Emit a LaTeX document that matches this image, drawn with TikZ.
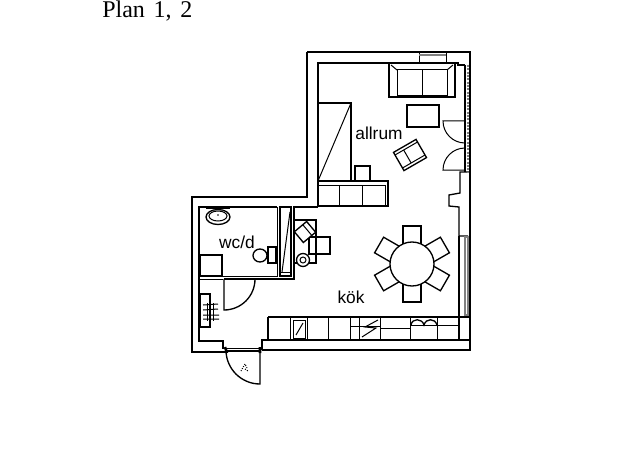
\documentclass[tikz,border=0pt]{standalone}
\usepackage{fontspec}
\setmainfont{Liberation Serif}
\newfontfamily\handfont{Liberation Sans}

\tikzset{
  wall/.style={line width=1pt},
  thin wall/.style={line width=0.75pt},
  roomlabel/.style={font=\handfont\fontsize{13}{15}\selectfont},
}

\begin{document}
\begin{tikzpicture}[x=0.75pt,y=-0.75pt,line join=miter]
  \useasboundingbox (0,0) rectangle (625,460);

  % Title
  \node[font=\fontsize{18}{20}\selectfont,anchor=base west,inner sep=0pt] (title) at (102,18) {Plan\hspace{2pt} 1,\hspace{2pt} 2};

  % Outer walls
  \draw[wall] (307,52) -- (470,52) -- (470,350) -- (262,350);
  \draw[wall] (226,352) -- (192,352) -- (192,197) -- (307,197) -- (307,52);

  % Inner walls
  \draw[wall] (318,207) -- (318,63) -- (419,63);
  \draw[wall] (446,63) -- (458,63) -- (458,65) -- (465,65);
  \draw[wall] (465,65) -- (465,172);
  \draw[wall] (318,207) -- (294,207) -- (294,279) -- (224,279);
  \draw[wall] (277,207) -- (199,207) -- (199,341) -- (223,341) -- (223,349);
  \draw[thin wall] (199,276) -- (277,276) -- (277,207);
  \draw[thin wall] (199,279) -- (223,279);
  \draw[wall] (262,350) -- (262,340) -- (470,340);
  \draw[thin wall] (226,348) -- (260,348);
  \draw[wall] (226,351) -- (260,351);
  \draw[wall] (470,172) -- (460,172) -- (460,193) -- (449,195) -- (449,206) -- (459,207) -- (459,236) -- (468,236);
  \draw[wall] (459,236) -- (459,317);

  % Windows
  \draw[thin wall] (419,52) rectangle (446,63);
  \draw[line width=1.5pt,gray] (419,55) -- (446,55);
  \draw[line width=1.5pt,gray,densely dotted] (467.5,65) -- (467.5,172);
  \draw[line width=1pt,gray] (465,237) rectangle (468,315);

  % Doors in allrum
  \draw[thin wall] (465,121) -- (443,121) arc[start angle=180,end angle=90,radius=22];
  \draw[thin wall] (465,170) -- (443,170) arc[start angle=180,end angle=270,radius=22];

  % Sofa
  \draw[wall] (389,63) rectangle (455,97);
  \draw[thin wall] (397,70) rectangle (447,96);
  \draw[thin wall] (422,70) -- (422,96);
  \draw[thin wall] (391,65) -- (397,70) (453,65) -- (447,70);

  % Table and armchair
  \draw[wall] (407,105) rectangle (439,127);
  \begin{scope}[shift={(410,155)},rotate=30]
    \draw[wall] (-13,-10.5) rectangle (13,10.5);
    \draw[thin wall] (-13,-7.5) -- (13,-7.5) (-13,7.5) -- (13,7.5);
    \draw[thin wall] (-3,-7.5) -- (-3,7.5);
  \end{scope}

  % Bed and shelf
  \draw[wall] (318,103) rectangle (351,181);
  \draw[thin wall] (318,181) -- (351,103);
  \draw[wall] (355,181) rectangle (370,166);
  \draw[wall] (318,181) rectangle (388,206);
  \draw[thin wall] (318,185) -- (385,185) -- (385,206);
  \draw[thin wall] (339,185) -- (339,206) (362,185) -- (362,206);

  % Dining table with chairs
  \foreach \ang in {0,60,120,180,240,300}{
    \draw[wall,rotate around={\ang:(412,264)}] (403,226) rectangle (421,246);
  }
  \draw[wall,fill=white] (412,264) circle[radius=22];

  % Wc
  \draw[wall] (218,217) ellipse[x radius=12,y radius=7.5];
  \draw[thin wall] (218,216) ellipse[x radius=9,y radius=5];
  \draw[thin wall] (206,208) -- (230,208);
  \fill (218,215) circle[radius=0.8];
  \draw[wall] (260,255.5) ellipse[x radius=7,y radius=6.5];
  \draw[wall] (268,247) rectangle (276,263);
  \draw[wall] (200,255) rectangle (222,276);
  \node[roomlabel] (wcd) at (237,242) {wc/d};

  % Closet
  \draw[wall] (280,207) rectangle (291,276);
  \draw[thin wall] (282,272) -- (290,212);
  \draw[thin wall] (280,272) -- (291,272);

  % Desk
  \draw[wall] (294,220) -- (316,220) -- (316,263) -- (294,263);
  \draw[wall] (309,237) -- (309,254) -- (330,254) -- (330,237) -- cycle;
  \begin{scope}[shift={(305,232)},rotate=40]
    \draw[wall,fill=white] (-8,-7) rectangle (8,7);
    \draw[thin wall] (3,-7) -- (3,7);
  \end{scope}
  \draw[wall,fill=white] (303,260) circle[radius=6.5];
  \draw[thin wall] (303,260) circle[radius=3];

  % Door to wc
  \draw[wall] (224,279) -- (224,310) arc[start angle=90,end angle=0,radius=31];

  % Hall shelf and rack
  \draw[wall] (200,294) rectangle (210,327);
  \draw[thin wall] (203,305) -- (218,304) (203,310) -- (218,309) (203,315) -- (219,315) (203,319) -- (219,319);
  \draw[thin wall] (207,303) -- (207,321) (213,303) -- (213,321);

  % Entrance door
  \draw[wall] (260,350) -- (260,384) arc[start angle=90,end angle=180,radius=34];
  \draw[line width=2pt] (225,347) -- (227,353) (260,347) -- (260,353);
  \draw[thin wall,densely dotted] (241,371) -- (245,364) -- (247,368) (245,369) -- (248,371);

  % Kitchen counter
  \draw[wall] (268,317) -- (470,317);
  \draw[wall] (268,317) -- (268,340) (459,340) -- (459,317);
  \foreach \xpos in {290,307,328,350,359,380,410,437}{
    \draw[thin wall] (\xpos,317) -- (\xpos,340);
  }
  \draw[thin wall] (293,320) rectangle (305,338);
  \draw[thin wall] (296,335) -- (303,323);
  \draw[thin wall] (350,326) -- (380,326);
  \draw[thin wall] (380,328) -- (410,328);
  \draw[thin wall] (437,325) -- (459,325);
  \draw[thin wall] (378,320) -- (365,327) -- (376,328) -- (362,337);
  \draw[wall] (411,325) .. controls (412,318) and (422,318) .. (424,325) .. controls (426,318) and (435,318) .. (437,325);
  \draw[thin wall] (411,325) -- (437,325);

  % Room labels
  \node[roomlabel] (allrum) at (379,133) {allrum};
  \node[roomlabel] (kok) at (351,297) {kök};
\end{tikzpicture}
\end{document}
